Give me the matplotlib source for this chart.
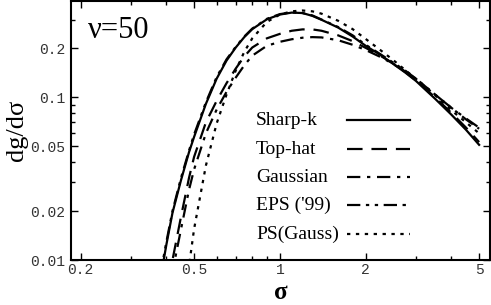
import matplotlib
matplotlib.use("Agg")
import matplotlib.pyplot as plt
from matplotlib.ticker import FixedLocator, LogLocator, NullFormatter, FixedFormatter

# sigma grid shared by all curves
sigma = [0.38, 0.40, 0.42, 0.45, 0.48, 0.50, 0.55, 0.60, 0.65, 0.70, 0.75, 0.80,
         0.90, 1.0, 1.1, 1.2, 1.3, 1.4, 1.6, 1.8, 2.0, 2.25, 2.5, 2.75, 3.0,
         3.5, 4.0, 4.5, 5.0]

# dg/dsigma for each filter
sharp_k = [0.0075, 0.0125, 0.0195, 0.031, 0.046, 0.057, 0.091, 0.130, 0.168, 0.202,
           0.234, 0.262, 0.301, 0.322, 0.331, 0.329, 0.316, 0.299, 0.268, 0.236,
           0.207, 0.182, 0.160, 0.142, 0.126, 0.098, 0.078, 0.063, 0.051]
top_hat = [0.004, 0.0065, 0.010, 0.0185, 0.032, 0.043, 0.070, 0.095, 0.122, 0.150,
           0.178, 0.202, 0.230, 0.245, 0.256, 0.261, 0.261, 0.256, 0.240, 0.221,
           0.201, 0.180, 0.161, 0.143, 0.127, 0.100, 0.080, 0.065, 0.053]
gaussian = [0.003, 0.005, 0.0085, 0.0155, 0.027, 0.036, 0.060, 0.084, 0.108, 0.132,
            0.157, 0.180, 0.207, 0.219, 0.227, 0.232, 0.234, 0.233, 0.224, 0.210,
            0.195, 0.177, 0.160, 0.144, 0.130, 0.104, 0.086, 0.074, 0.065]
eps99 = [0.008, 0.013, 0.020, 0.032, 0.047, 0.059, 0.093, 0.133, 0.171, 0.204,
         0.236, 0.264, 0.303, 0.324, 0.332, 0.329, 0.318, 0.300, 0.270, 0.240,
         0.210, 0.184, 0.163, 0.146, 0.130, 0.104, 0.086, 0.073, 0.064]
ps_gauss = [0.001, 0.002, 0.003, 0.0045, 0.0092, 0.0155, 0.038, 0.069, 0.104, 0.146,
            0.190, 0.230, 0.290, 0.322, 0.337, 0.341, 0.337, 0.326, 0.295, 0.262,
            0.228, 0.195, 0.169, 0.147, 0.130, 0.103, 0.083, 0.070, 0.060]

labels = ["Sharp-k", "Top-hat", "Gaussian", "EPS ('99)", "PS(Gauss)"]
series = [sharp_k, top_hat, gaussian, eps99, ps_gauss]
styles = ["-", (0, (7, 4)), (0, (6, 3, 1.5, 3)), (0, (6, 2.5, 1.5, 2.5, 1.5, 2.5)),
          (0, (1.5, 2.5))]

xticks = [0.2, 0.5, 1, 2, 5]
yticks = [0.01, 0.02, 0.05, 0.1, 0.2]

fig = plt.figure(figsize=(4.91, 3.05), dpi=100)
ax = fig.add_axes([0.1446, 0.1475, 0.8534, 0.8492])

for vals, ls in zip(series, styles):
    ax.plot(sigma, vals, color="black", linestyle=ls, linewidth=1.6)

ax.set_xscale("log")
ax.set_yscale("log")
ax.set_xlim(0.185, 5.46)
ax.set_ylim(0.01, 0.39)

ax.xaxis.set_major_locator(FixedLocator(xticks))
ax.xaxis.set_major_formatter(FixedFormatter([f"{t:g}" for t in xticks]))
ax.xaxis.set_minor_locator(LogLocator(base=10, subs=range(2, 10)))
ax.xaxis.set_minor_formatter(NullFormatter())
ax.yaxis.set_major_locator(FixedLocator(yticks))
ax.yaxis.set_major_formatter(FixedFormatter([f"{t:g}" for t in yticks]))
ax.yaxis.set_minor_locator(LogLocator(base=10, subs=range(2, 10)))
ax.yaxis.set_minor_formatter(NullFormatter())
for lab in ax.get_xticklabels() + ax.get_yticklabels():
    lab.set_fontfamily("Liberation Mono")
    lab.set_fontsize(10.5)
    lab.set_color("#333333")

ax.tick_params(which="both", direction="in", top=True, right=True, width=1)
ax.tick_params(which="major", length=5, pad=4)
ax.tick_params(axis="x", which="major", pad=2)
ax.tick_params(which="minor", length=3)
for sp in ax.spines.values():
    sp.set_linewidth(1.5)

# x label placed by hand so it fits in the small bottom margin
fig.text(0.5714, 0.02, "σ", fontfamily="Liberation Serif", fontsize=18,
         fontweight="bold", ha="center", va="baseline")
ax.set_ylabel("dg/dσ", fontfamily="Liberation Serif", fontsize=19, labelpad=2)
ax.text(0.04, 0.885, "ν=50", transform=ax.transAxes, fontfamily="Liberation Serif",
        fontsize=22, va="center")

# legend drawn by hand: labels left-aligned, samples in a column to the right
rows = [0.5405, 0.4286, 0.3205, 0.2124, 0.1004]
for lab, ls, yy in zip(labels, styles, rows):
    ax.text(0.4415, yy, lab, transform=ax.transAxes, fontfamily="Liberation Serif",
            fontsize=14, va="center")
    ax.plot([0.659, 0.809], [yy, yy], transform=ax.transAxes, color="black",
            linestyle=ls, linewidth=1.6)

fig.savefig("out.png", dpi=100)
